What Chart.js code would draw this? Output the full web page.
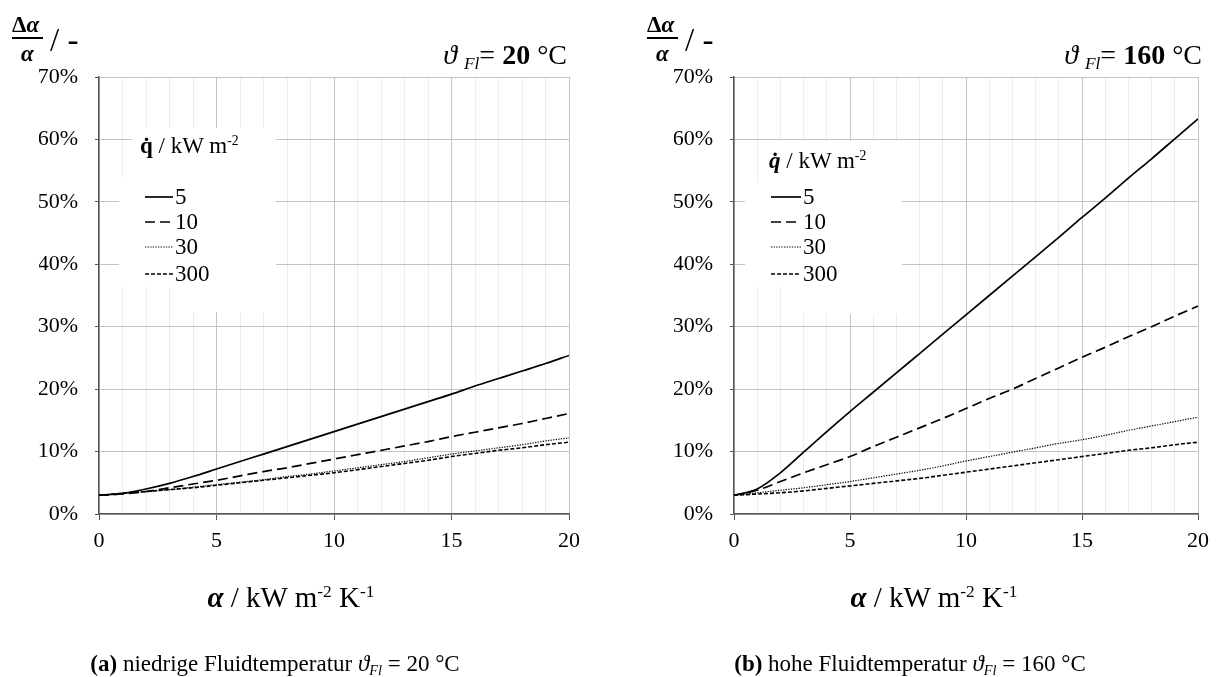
<!DOCTYPE html>
<html>
<head>
<meta charset="utf-8">
<script src="https://cdn.jsdelivr.net/npm/chart.js@4.4.0/dist/chart.umd.min.js"></script>
<style>
  body { margin: 0; background: #fff; width: 1217px; height: 677px; overflow: hidden; position: relative; font-family: "Liberation Serif", serif; color: #000; }
  canvas { position: absolute; left: 0; top: 0; }
  .t { position: absolute; white-space: nowrap; line-height: 1; }
  .bar { position: absolute; height: 2px; background: #000; }
  .sup { font-size: 0.6em; position: relative; top: -0.55em; }
  .sub { font-size: 0.62em; position: relative; top: 0.3em; font-style: italic; }
</style>
</head>
<body>
<canvas id="links" width="1217" height="677"></canvas>
<canvas id="rechts" width="1217" height="677"></canvas>

<!-- y-Achsentitel -->
<div class="t" style="left:12px;top:13px;font-size:23px;font-weight:bold">Δ<i>α</i></div>
<div class="bar" style="left:12px;top:37px;width:31px"></div>
<div class="t" style="left:21px;top:42px;font-size:23px;font-weight:bold"><i>α</i></div>
<div class="t" style="left:50px;top:24px;font-size:33px">/ -</div>

<div class="t" style="left:647px;top:13px;font-size:23px;font-weight:bold">Δ<i>α</i></div>
<div class="bar" style="left:647px;top:37px;width:31px"></div>
<div class="t" style="left:656px;top:42px;font-size:23px;font-weight:bold"><i>α</i></div>
<div class="t" style="left:685px;top:24px;font-size:33px">/ -</div>

<!-- Temperaturangabe oben rechts -->
<div class="t" style="right:650px;top:41px;font-size:28px"><i>ϑ</i> <span class="sub">Fl</span>= <b>20</b> °C</div>
<div class="t" style="right:15px;top:41px;font-size:28px"><i>ϑ</i> <span class="sub">Fl</span>= <b>160</b> °C</div>

<!-- Legendenkopf -->
<div class="t" style="left:140px;top:134px;font-size:23px"><b>q̇</b> / kW m<span class="sup">-2</span></div>
<div class="t" style="left:769px;top:149px;font-size:23px"><b><i>q̇</i></b> / kW m<span class="sup">-2</span></div>

<!-- x-Achsentitel -->
<div class="t" style="left:291px;top:583px;font-size:29px;transform:translateX(-50%)"><b><i>α</i></b> / kW m<span class="sup">-2</span> K<span class="sup">-1</span></div>
<div class="t" style="left:934px;top:583px;font-size:29px;transform:translateX(-50%)"><b><i>α</i></b> / kW m<span class="sup">-2</span> K<span class="sup">-1</span></div>

<!-- Bildunterschriften -->
<div class="t" style="left:275px;top:652px;font-size:23px;transform:translateX(-50%)"><b>(a)</b> niedrige Fluidtemperatur <i>ϑ</i><span class="sub">Fl</span> = 20 °C</div>
<div class="t" style="left:910px;top:652px;font-size:23px;transform:translateX(-50%)"><b>(b)</b> hohe Fluidtemperatur <i>ϑ</i><span class="sub">Fl</span> = 160 °C</div>

<script>
// Wärmeübergangskoeffizient alpha in kW m-2 K-1
const alpha = [0, 1, 2, 3, 4, 5, 6, 7, 8, 9, 10, 11, 12, 13, 14, 15, 16, 17, 18, 19, 20];
const legendLabels = ["5", "10", "30", "300"];

// Fluidtemperatur 20 °C, delta alpha / alpha in %
const q5_20 = [3.0, 3.3, 4.0, 4.9, 6.0, 7.2, 8.4, 9.6, 10.8, 12.0, 13.2, 14.4, 15.6, 16.8, 18.0, 19.2, 20.5, 21.7, 22.9, 24.1, 25.4];
const q10_20 = [3.0, 3.2, 3.6, 4.2, 4.8, 5.4, 6.1, 6.8, 7.4, 8.1, 8.8, 9.5, 10.2, 10.9, 11.6, 12.4, 13.1, 13.8, 14.5, 15.3, 16.1];
const q30_20 = [3.0, 3.3, 3.6, 3.9, 4.3, 4.7, 5.1, 5.5, 6.0, 6.4, 6.9, 7.4, 7.9, 8.4, 9.0, 9.6, 10.1, 10.6, 11.1, 11.7, 12.2];
const q300_20 = [3.0, 3.3, 3.6, 3.9, 4.2, 4.6, 5.0, 5.4, 5.8, 6.2, 6.6, 7.1, 7.6, 8.1, 8.6, 9.2, 9.7, 10.2, 10.6, 11.1, 11.5];

// Fluidtemperatur 160 °C
const q5_160 = [3.0, 4.0, 6.6, 9.9, 13.2, 16.4, 19.5, 22.6, 25.7, 28.8, 31.9, 35.0, 38.1, 41.2, 44.3, 47.5, 50.6, 53.8, 56.9, 60.1, 63.3];
const q10_160 = [3.0, 3.8, 5.2, 6.6, 7.9, 9.2, 10.8, 12.3, 13.8, 15.3, 16.9, 18.5, 20.0, 21.7, 23.4, 25.1, 26.7, 28.4, 30.0, 31.7, 33.3];
const q30_160 = [3.0, 3.4, 3.8, 4.2, 4.7, 5.2, 5.8, 6.4, 7.0, 7.7, 8.5, 9.2, 9.9, 10.6, 11.3, 11.9, 12.6, 13.4, 14.1, 14.8, 15.5];
const q300_160 = [3.0, 3.2, 3.4, 3.7, 4.1, 4.5, 4.9, 5.3, 5.7, 6.2, 6.7, 7.2, 7.7, 8.2, 8.7, 9.2, 9.7, 10.2, 10.6, 11.1, 11.5];

// Linienstile: durchgezogen, lang gestrichelt, gepunktet, kurz gestrichelt
const linienStile = [
  { borderDash: [], borderWidth: 1.7 },
  { borderDash: [10, 5], borderWidth: 1.7 },
  { borderDash: [1.3, 1.3], borderWidth: 1.2 },
  { borderDash: [4, 2], borderWidth: 1.6 }
];

function punkte(ys) {
  return alpha.map((a, i) => ({ x: a, y: ys[i] }));
}

// zeichnet weiße Legendenfläche und die Einträge in die Plotfläche
const kurvenLegende = {
  id: "kurvenLegende",
  beforeDatasetsDraw(chart, args, opts) {
    const ctx = chart.ctx;
    ctx.save();
    ctx.fillStyle = "#fff";
    opts.boxes.forEach(b => ctx.fillRect(b[0], b[1], b[2] - b[0], b[3] - b[1]));
    ctx.font = "23px 'Liberation Serif'";
    ctx.textBaseline = "middle";
    chart.data.datasets.forEach((ds, i) => {
      const y = opts.ys[i];
      ctx.strokeStyle = "#000";
      ctx.lineWidth = ds.borderWidth;
      ctx.setLineDash(ds.borderDash);
      ctx.beginPath();
      ctx.moveTo(opts.x1, y);
      ctx.lineTo(opts.x2, y);
      ctx.stroke();
      ctx.setLineDash([]);
      ctx.fillStyle = "#000";
      ctx.fillText(ds.label, opts.textX, y + 1);
    });
    ctx.restore();
  }
};

function diagramm(id, reihen, plotLinks, plotRechts, legende) {
  const datasets = reihen.map((r, i) => ({
    label: legendLabels[i],
    data: punkte(r),
    borderColor: "#000",
    borderWidth: linienStile[i].borderWidth,
    borderDash: linienStile[i].borderDash,
    pointRadius: 0,
    cubicInterpolationMode: "monotone",
    fill: false
  }));

  new Chart(id, {
    type: "line",
    data: { datasets: datasets },
    plugins: [kurvenLegende],
    options: {
      responsive: false,
      animation: false,
      devicePixelRatio: 1,
      layout: {
        padding: { left: plotLinks - 60, right: 1217 - plotRechts, top: 77, bottom: 103 }
      },
      plugins: {
        legend: { display: false },
        tooltip: { enabled: false },
        kurvenLegende: legende
      },
      scales: {
        x: {
          type: "linear",
          min: 0,
          max: 20,
          afterFit: s => { s.height = 60; },
          ticks: {
            stepSize: 1,
            autoSkip: false,
            maxRotation: 0,
            padding: 8,
            color: "#000",
            font: { family: "Liberation Serif", size: 22 },
            callback: v => (v % 5 === 0 ? String(v) : "")
          },
          grid: {
            color: c => (c.tick && c.tick.value % 5 === 0 ? "#c6c6c6" : "#ececec"),
            lineWidth: 1,
            tickLength: 6,
            tickColor: c => (c.tick && c.tick.value % 5 === 0 ? "#555" : "rgba(0,0,0,0)")
          },
          border: { color: "#555", width: 1.5 }
        },
        y: {
          min: 0,
          max: 70,
          afterFit: s => { s.width = 60; },
          ticks: {
            stepSize: 10,
            padding: 17,
            color: "#000",
            font: { family: "Liberation Serif", size: 22 },
            callback: v => v + "%"
          },
          grid: {
            color: "#c3c3c3",
            lineWidth: 1,
            tickLength: 4,
            tickColor: "#555"
          },
          border: { color: "#555", width: 1.5 }
        }
      }
    }
  });
}

diagramm("links", [q5_20, q10_20, q30_20, q300_20], 99, 569, {
  boxes: [[132, 128, 276, 178], [119, 178, 276, 287], [180, 287, 276, 312]],
  x1: 145, x2: 173, textX: 175, ys: [197, 222, 247, 274]
});

diagramm("rechts", [q5_160, q10_160, q30_160, q300_160], 734, 1204, {
  boxes: [[762, 141, 905, 183], [745, 183, 902, 287], [790, 287, 902, 314]],
  x1: 771, x2: 801, textX: 803, ys: [197, 222, 247, 274]
});
</script>
</body>
</html>
